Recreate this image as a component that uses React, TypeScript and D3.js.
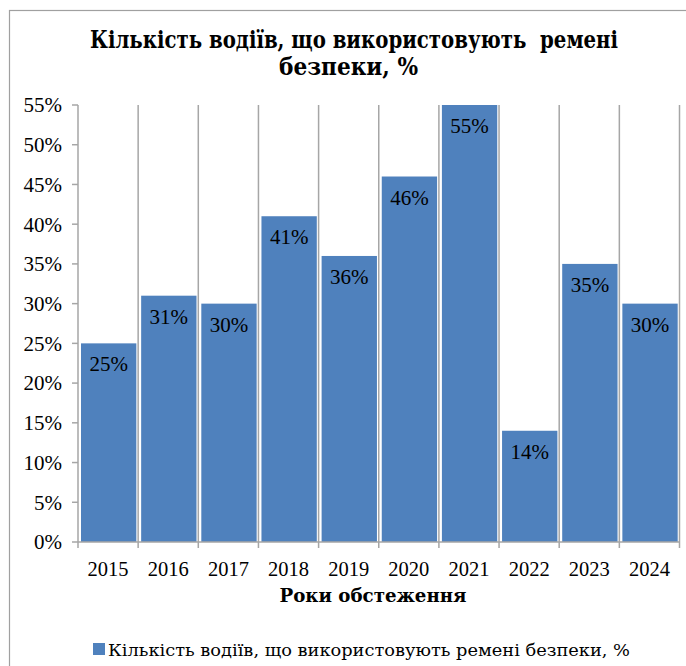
import React from "react";
import * as d3 from "d3";

const years = ["2015", "2016", "2017", "2018", "2019", "2020", "2021", "2022", "2023", "2024"];
const values = [25, 31, 30, 41, 36, 46, 55, 14, 35, 30];
const yTicks = [0, 5, 10, 15, 20, 25, 30, 35, 40, 45, 50, 55];
const titleLines = ["Кількість водіїв, що використовують  ремені", "безпеки, %"];
const xAxisTitle = "Роки обстеження";
const legendLabel = "Кількість водіїв, що використовують ремені безпеки, %";

const W = 686;
const H = 666;
const FONT = "'Liberation Serif', 'Times New Roman', serif";
const CYR = "'DejaVu Serif Condensed', 'DejaVu Serif', serif";

export default function App() {
  const left = 78;
  const right = 679.5;
  const top = 105;
  const bottom = 542;
  const xOuter = d3.scaleBand<string>().domain(years).range([left, right]).padding(0);
  const step = xOuter.bandwidth();
  const barOffset = step * 0.05;
  const barWidth = step * 0.92;
  const y = d3.scaleLinear().domain([0, 55]).range([bottom, top]);
  const gridColor = "#a6a6a6";
  const barColor = "#4f81bd";
  const boundaries = years.map((yr) => xOuter(yr)!).concat([right]);
  const titleBoxes = [
    { cx: 354, len: 528 },
    { cx: 348.5, len: 139 },
  ];

  return (
    <div style={{ position: "absolute", left: 0, top: 0 }}>
      <svg width={W} height={H} style={{ display: "block" }}>
        <rect x={0} y={0} width={W} height={H} fill="#fff" />
        <rect x={9.5} y={10.5} width={700} height={700} fill="#fff" stroke="#a0a0a0" strokeWidth={1.2} />
        {titleLines.map((t, i) => (
          <text key={i} x={titleBoxes[i].cx} y={48 + i * 27} textAnchor="middle" fontFamily={CYR} fontWeight="bold" fontSize={24} fill="#000" textLength={titleBoxes[i].len} lengthAdjust="spacingAndGlyphs" style={{ whiteSpace: "pre" }}>
            {t}
          </text>
        ))}
        {boundaries.map((bx, i) => (
          <line key={"g" + i} x1={bx} x2={bx} y1={top} y2={bottom + 6} stroke={gridColor} strokeWidth={1.5} />
        ))}
        {years.map((yr, i) => (
          <rect key={"b" + yr} x={xOuter(yr)! + barOffset} y={y(values[i])} width={barWidth} height={bottom - y(values[i])} fill={barColor} />
        ))}
        <line x1={left} x2={right} y1={bottom} y2={bottom} stroke={gridColor} strokeWidth={1.5} />
        {yTicks.map((t) => (
          <g key={"yt" + t}>
            <line x1={left - 6} x2={left} y1={y(t)} y2={y(t)} stroke={gridColor} strokeWidth={1.5} />
            <text x={left - 16} y={y(t)} dy="0.35em" textAnchor="end" fontFamily={FONT} fontSize={21} fill="#000">
              {t + "%"}
            </text>
          </g>
        ))}
        {years.map((yr, i) => (
          <text key={"l" + yr} x={xOuter(yr)! + barOffset + barWidth / 2} y={y(values[i]) + 28} textAnchor="middle" fontFamily={FONT} fontSize={21} fill="#000">
            {values[i] + "%"}
          </text>
        ))}
        {years.map((yr) => (
          <text key={"xl" + yr} x={xOuter(yr)! + step / 2} y={576} textAnchor="middle" fontFamily={FONT} fontSize={20.5} fill="#000">
            {yr}
          </text>
        ))}
        <text x={373} y={602} textAnchor="middle" fontFamily={CYR} fontWeight="bold" fontSize={19} fill="#000" textLength={187} lengthAdjust="spacingAndGlyphs">
          {xAxisTitle}
        </text>
        <rect x={93} y={643} width={12} height={12} fill={barColor} />
        <text x={108} y={656} fontFamily={CYR} fontSize={17} fill="#000" textLength={522} lengthAdjust="spacingAndGlyphs">
          {legendLabel}
        </text>
      </svg>
    </div>
  );
}
